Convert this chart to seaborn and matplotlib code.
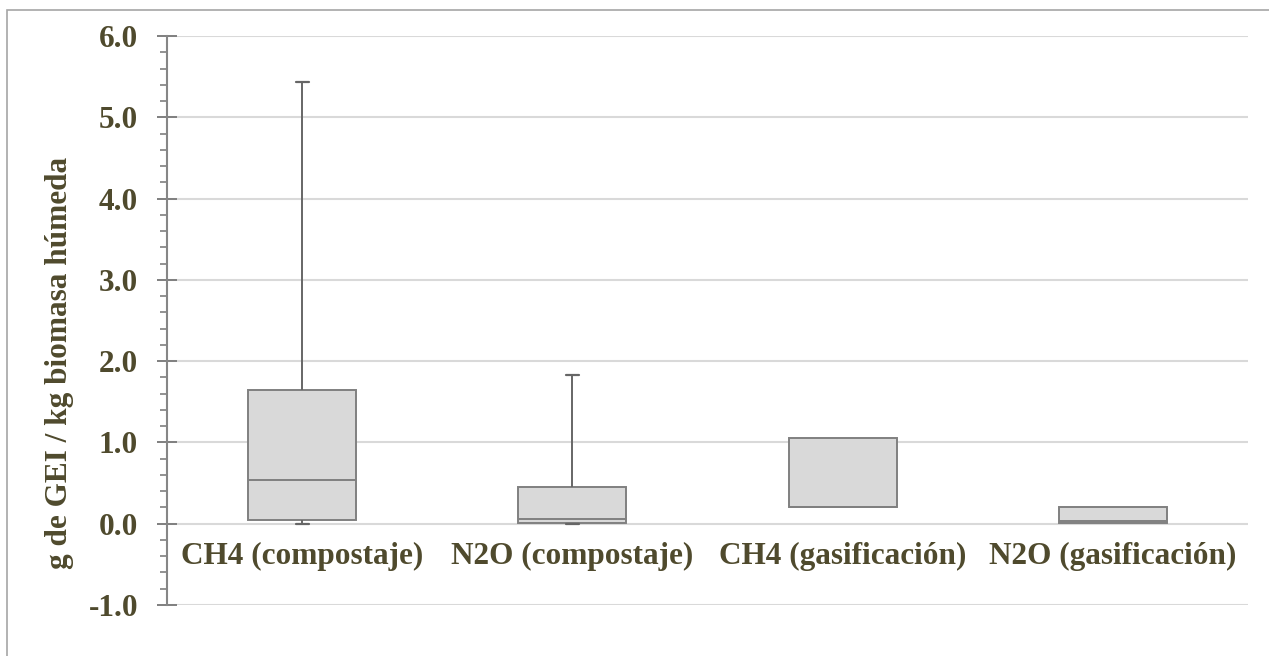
import numpy as np
import pandas as pd
import matplotlib
matplotlib.use("Agg")
import matplotlib.pyplot as plt
from matplotlib.ticker import MultipleLocator, FormatStrFormatter
from matplotlib.patches import Rectangle
import seaborn as sns

# Emission factors (g GHG / kg wet biomass): min, Q1, median, Q3, max per gas/process
categories = ["CH4 (compostaje)", "N2O (compostaje)", "CH4 (gasificación)", "N2O (gasificación)"]
ch4_compostaje = [0.00, 0.04, 0.54, 1.64, 5.43]
n2o_compostaje = [0.00, 0.01, 0.06, 0.45, 1.83]
ch4_gasificacion = [0.20, 0.20, 0.20, 1.05, 1.05]
n2o_gasificacion = [0.01, 0.01, 0.03, 0.20, 0.20]
y_ticks = [-1.0, 0.0, 1.0, 2.0, 3.0, 4.0, 5.0, 6.0]
y_label = "g de GEI / kg biomasa húmeda"

series = [ch4_compostaje, n2o_compostaje, ch4_gasificacion, n2o_gasificacion]
df = pd.DataFrame({
    "categoria": np.repeat(categories, [len(s) for s in series]),
    "valor": np.concatenate(series),
})

sns.set_theme(style="white")
plt.rcParams["font.family"] = ["Liberation Serif", "DejaVu Serif"]
plt.rcParams["font.weight"] = "bold"

TEXT = "#4F4A2D"
GRID = "#D9D9D9"
EDGE = "#808080"
WHISK = "#666666"
FS = 22.5

fig = plt.figure(figsize=(12.69, 6.56), dpi=100)
ax = fig.add_axes([167 / 1269, 1 - 605 / 656, (1248 - 167) / 1269, (605 - 36) / 656])

sns.boxplot(
    data=df, x="categoria", y="valor", order=categories, ax=ax,
    whis=np.inf, width=0.4, color="#D9D9D9", fill=True, linewidth=1.4,
    boxprops=dict(facecolor="#D9D9D9", edgecolor=EDGE, linewidth=1.4),
    medianprops=dict(color=EDGE, linewidth=1.4),
    whiskerprops=dict(color=WHISK, linewidth=1.4),
    capprops=dict(color=WHISK, linewidth=1.6),
    capwidths=0.048,
    zorder=3,
)

# drop caps on whiskers of zero length
for cont in ax.containers:
    whiskers = getattr(cont, "whiskers", [])
    caps = getattr(cont, "caps", [])
    for w, c in zip(whiskers, caps):
        yd = np.asarray(w.get_ydata(), dtype=float)
        if abs(yd[0] - yd[-1]) < 1e-9:
            c.set_visible(False)
            w.set_visible(False)

ax.set_xlim(-0.5, 3.5)
ax.set_ylim(y_ticks[0], y_ticks[-1])
ax.set_yticks(y_ticks)
ax.yaxis.set_major_formatter(FormatStrFormatter("%.1f"))
ax.yaxis.set_minor_locator(MultipleLocator(0.2))
ax.grid(axis="y", which="major", color=GRID, linewidth=1.5, zorder=0)
ax.set_axisbelow(True)

for side in ["top", "right"]:
    ax.spines[side].set_visible(False)
ax.spines["left"].set_color("#868686")
ax.spines["left"].set_linewidth(1.5)
# category axis crosses at zero
ax.spines["bottom"].set_position(("data", 0))
ax.spines["bottom"].set_visible(False)

ax.tick_params(axis="y", which="major", direction="inout", length=13.7, width=1.4,
               color="#7F7F7F", pad=14, labelsize=FS, labelcolor=TEXT, left=True)
ax.tick_params(axis="y", which="minor", direction="out", length=5, width=1.2,
               color="#7F7F7F", left=True)
ax.tick_params(axis="x", length=0, pad=13, labelsize=FS, labelcolor=TEXT)
for lbl in ax.get_xticklabels() + ax.get_yticklabels():
    lbl.set_fontweight("bold")

ax.set_xlabel("")
ax.set_ylabel("")
fig.text(60 / 1269, 1 - 363 / 656, y_label, rotation=90, ha="center", va="center",
         fontsize=FS, fontweight="bold", color=TEXT)

# chart frame
fig.patches.append(Rectangle((7 / 1269, -0.1), 1.2, 1 - 10 / 656 + 0.1,
                             transform=fig.transFigure, fill=False,
                             edgecolor="#A6A6A6", linewidth=1.2))

fig.savefig("out.png", dpi=100, facecolor="white")
